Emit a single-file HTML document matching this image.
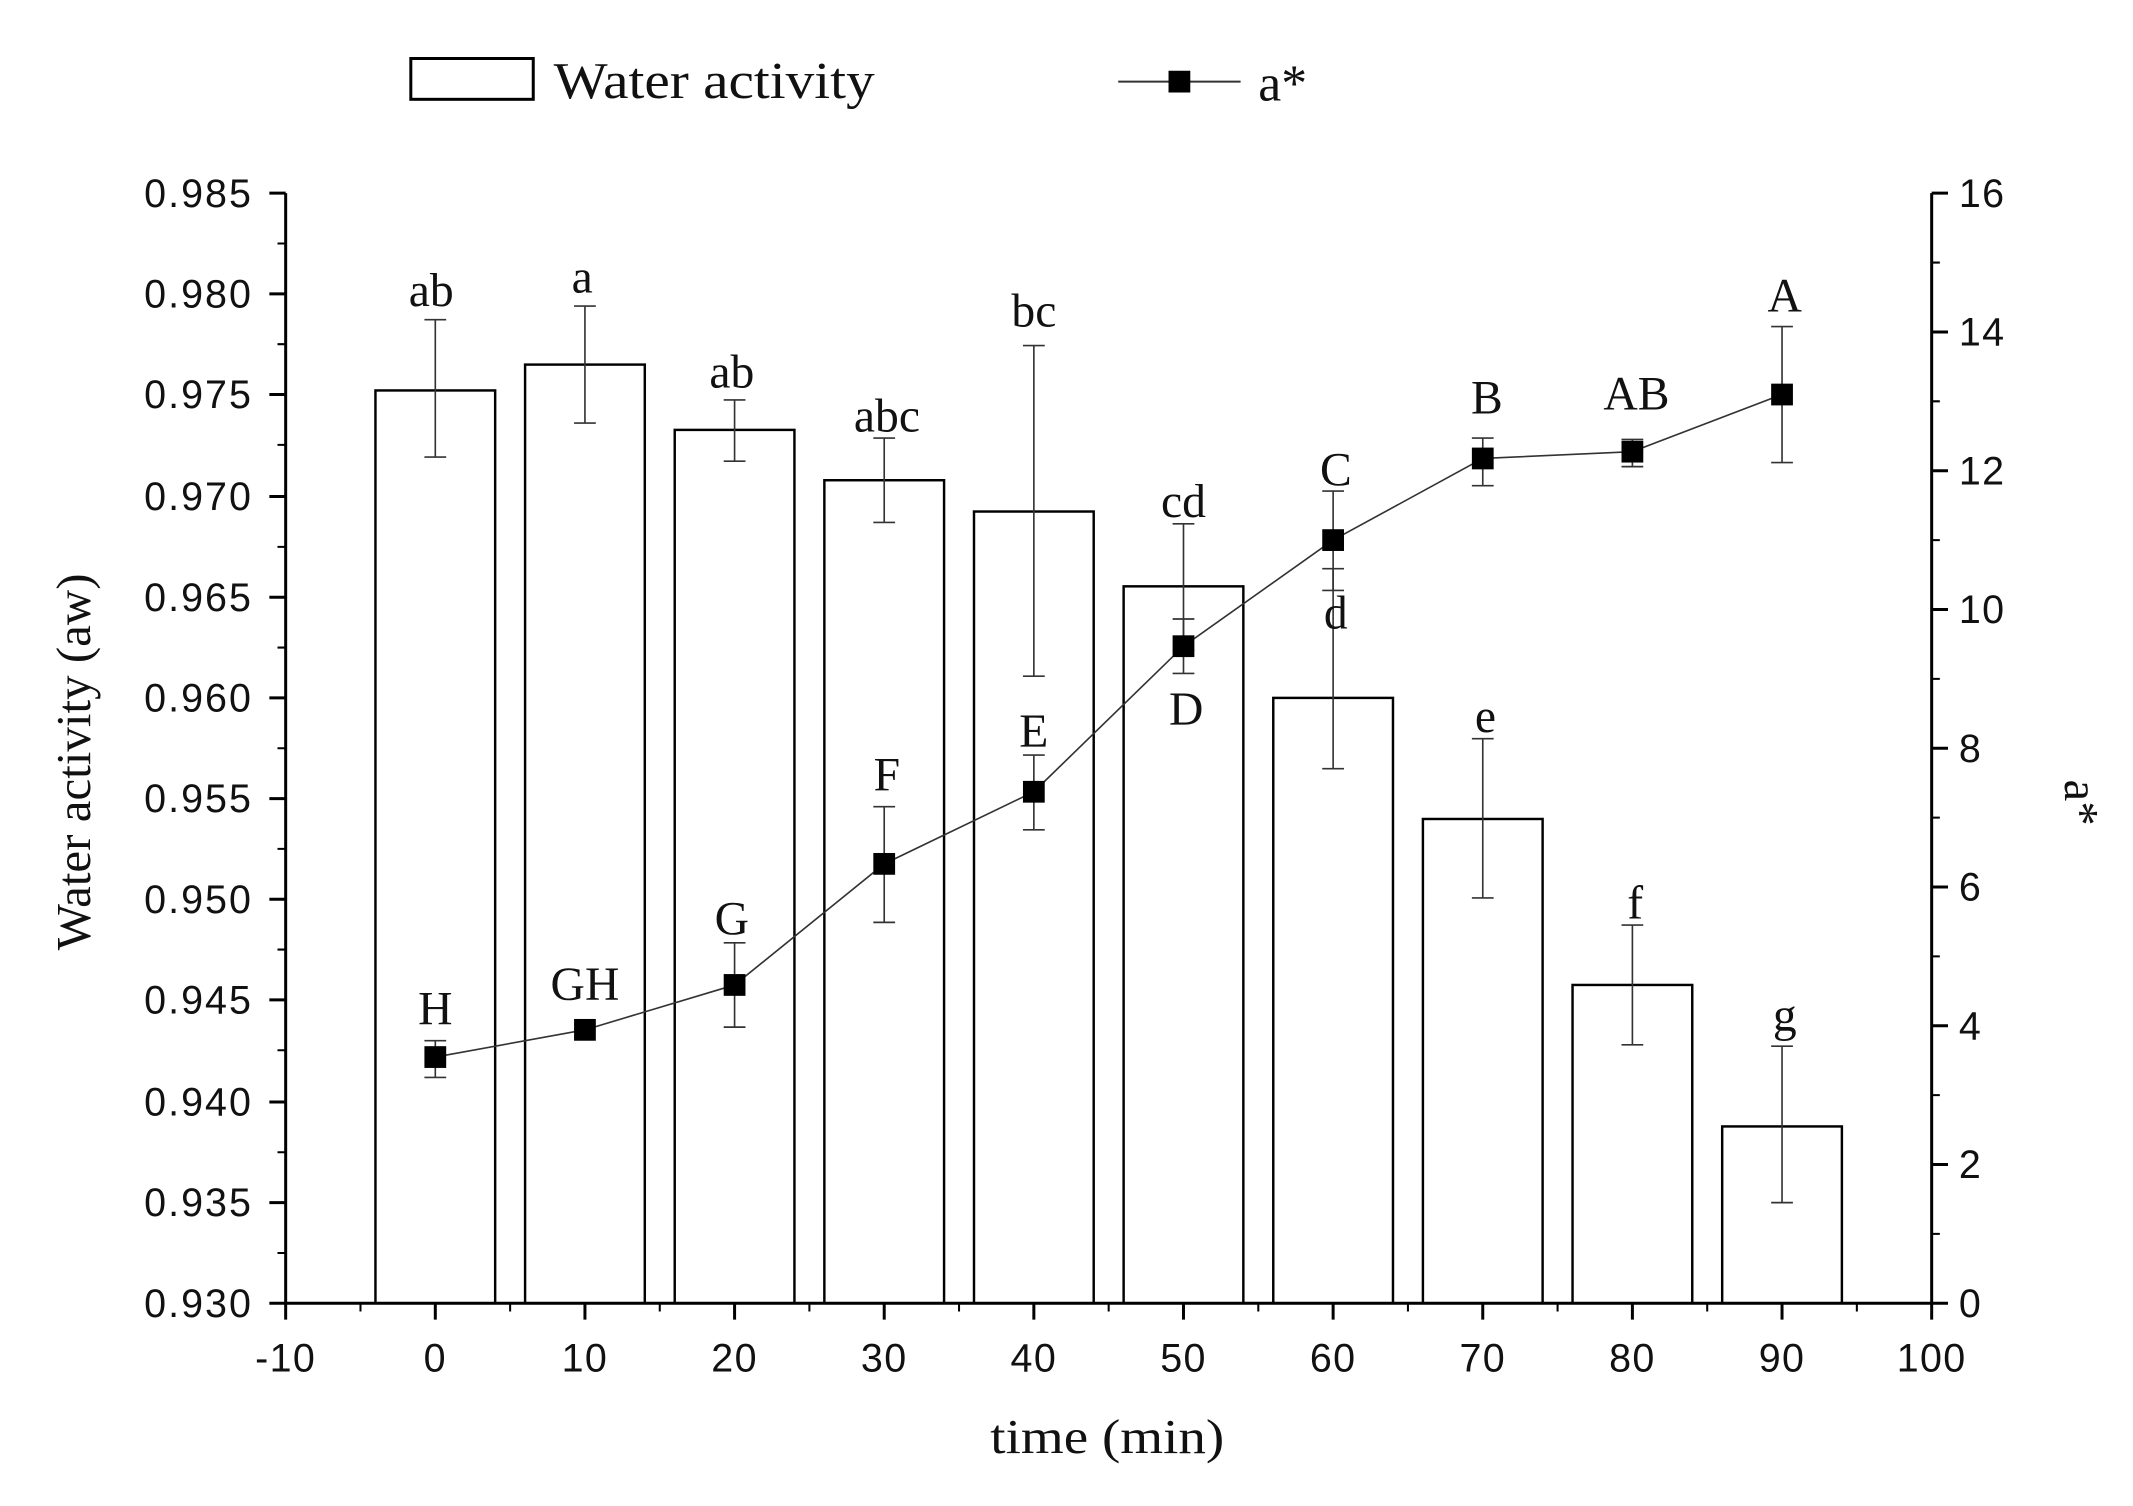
<!DOCTYPE html>
<html><head><meta charset="utf-8"><style>html,body{margin:0;padding:0;background:#fff;}svg{display:block}</style></head>
<body>
<svg width="2133" height="1506" viewBox="0 0 1568 1107" preserveAspectRatio="none" xmlns="http://www.w3.org/2000/svg">
<rect width="1568" height="1107" fill="#fff"/>
<g stroke="#000" stroke-width="1.8" fill="#fff">
<rect x="276" y="287" width="88" height="671"/>
<rect x="386" y="268" width="88" height="690"/>
<rect x="496" y="316" width="88" height="642"/>
<rect x="606" y="353" width="88" height="605"/>
<rect x="716" y="376" width="88" height="582"/>
<rect x="826" y="431" width="88" height="527"/>
<rect x="936" y="513" width="88" height="445"/>
<rect x="1046" y="602" width="88" height="356"/>
<rect x="1156" y="724" width="88" height="234"/>
<rect x="1266" y="828" width="88" height="130"/>
</g>
<g stroke="#333" stroke-width="1.2" fill="none">
<path d="M320 235V336M312 235H328M312 336H328"/>
<path d="M430 225V311M422 225H438M422 311H438"/>
<path d="M540 294V339M532 294H548M532 339H548"/>
<path d="M650 322V384M642 322H658M642 384H658"/>
<path d="M760 254V497M752 254H768M752 497H768"/>
<path d="M870 385V478M862 385H878M862 478H878"/>
<path d="M980 418V565M972 418H988M972 565H988"/>
<path d="M1090 543V660M1082 543H1098M1082 660H1098"/>
<path d="M1200 680V768M1192 680H1208M1192 768H1208"/>
<path d="M1310 769V884M1302 769H1318M1302 884H1318"/>
</g>
<g stroke="#333" stroke-width="1.2" fill="none">
<polyline points="320,777 430,757 540,724 650,635 760,582 870,475 980,397 1090,337 1200,332 1310,290"/>
<path d="M320 765V792M312 765H328M312 792H328"/>
<path d="M540 693V755M532 693H548M532 755H548"/>
<path d="M650 593V678M642 593H658M642 678H658"/>
<path d="M760 555V610M752 555H768M752 610H768"/>
<path d="M870 455V495M862 455H878M862 495H878"/>
<path d="M980 361V434M972 361H988M972 434H988"/>
<path d="M1090 322V357M1082 322H1098M1082 357H1098"/>
<path d="M1200 323V343M1192 323H1208M1192 343H1208"/>
<path d="M1310 240V340M1302 240H1318M1302 340H1318"/>
</g>
<g fill="#000">
<rect x="312" y="769" width="16" height="16"/><rect x="422" y="749" width="16" height="16"/><rect x="532" y="716" width="16" height="16"/><rect x="642" y="627" width="16" height="16"/><rect x="752" y="574" width="16" height="16"/><rect x="862" y="467" width="16" height="16"/><rect x="972" y="389" width="16" height="16"/><rect x="1082" y="329" width="16" height="16"/><rect x="1192" y="324" width="16" height="16"/><rect x="1302" y="282" width="16" height="16"/>
</g>
<g stroke="#000" stroke-width="2.2" fill="none">
<path d="M210 142V958H1420V142"/>
<path d="M198 142H210M198 216H210M198 290H210M198 365H210M198 439H210M198 513H210M198 587H210M198 661H210M198 735H210M198 810H210M198 884H210M198 958H210"/>
<path d="M204 179H210M204 253H210M204 327H210M204 402H210M204 476H210M204 550H210M204 624H210M204 698H210M204 772H210M204 847H210M204 921H210" stroke-width="1.5"/>
<path d="M1420 142H1432M1420 244H1432M1420 346H1432M1420 448H1432M1420 550H1432M1420 652H1432M1420 754H1432M1420 856H1432M1420 958H1432"/>
<path d="M1420 193H1426M1420 295H1426M1420 397H1426M1420 499H1426M1420 601H1426M1420 703H1426M1420 805H1426M1420 907H1426" stroke-width="1.5"/>
<path d="M210 958V970M320 958V970M430 958V970M540 958V970M650 958V970M760 958V970M870 958V970M980 958V970M1090 958V970M1200 958V970M1310 958V970M1420 958V970"/>
<path d="M265 958V964M375 958V964M485 958V964M595 958V964M705 958V964M815 958V964M925 958V964M1035 958V964M1145 958V964M1255 958V964M1365 958V964" stroke-width="1.5"/>
</g>
<g font-family="Liberation Sans, sans-serif" font-size="29" fill="#111" text-anchor="end" letter-spacing="1.5">
<text x="186" y="152">0.985</text><text x="186" y="226">0.980</text><text x="186" y="300">0.975</text><text x="186" y="375">0.970</text><text x="186" y="449">0.965</text><text x="186" y="523">0.960</text><text x="186" y="597">0.955</text><text x="186" y="671">0.950</text><text x="186" y="745">0.945</text><text x="186" y="820">0.940</text><text x="186" y="894">0.935</text><text x="186" y="968">0.930</text>
</g>
<g font-family="Liberation Sans, sans-serif" font-size="29" fill="#111" text-anchor="start" letter-spacing="1">
<text x="1440" y="152">16</text><text x="1440" y="254">14</text><text x="1440" y="356">12</text><text x="1440" y="458">10</text><text x="1440" y="560">8</text><text x="1440" y="662">6</text><text x="1440" y="764">4</text><text x="1440" y="866">2</text><text x="1440" y="968">0</text>
</g>
<g font-family="Liberation Sans, sans-serif" font-size="29" fill="#111" text-anchor="middle" letter-spacing="1">
<text x="210" y="1008">-10</text><text x="320" y="1008">0</text><text x="430" y="1008">10</text><text x="540" y="1008">20</text><text x="650" y="1008">30</text><text x="760" y="1008">40</text><text x="870" y="1008">50</text><text x="980" y="1008">60</text><text x="1090" y="1008">70</text><text x="1200" y="1008">80</text><text x="1310" y="1008">90</text><text x="1420" y="1008">100</text>
</g>
<g font-family="Liberation Serif, serif" font-size="35" fill="#111" text-anchor="middle">
<text x="317" y="225">ab</text><text x="428" y="215">a</text><text x="538" y="285">ab</text><text x="652" y="317">abc</text><text x="760" y="240">bc</text><text x="870" y="380">cd</text><text x="982" y="462">d</text><text x="1092" y="538">e</text><text x="1202" y="675">f</text><text x="1312" y="758">g</text>
<text x="320" y="753">H</text><text x="430" y="735">GH</text><text x="538" y="687">G</text><text x="652" y="581">F</text><text x="760" y="549">E</text><text x="872" y="533">D</text><text x="982" y="357">C</text><text x="1093" y="304">B</text><text x="1203" y="301">AB</text><text x="1312" y="229">A</text>
</g>
<text x="728" y="1068" font-family="Liberation Serif, serif" font-size="36" fill="#111" textLength="172" lengthAdjust="spacingAndGlyphs">time (min)</text>
<text transform="translate(66,560) rotate(-90)" font-family="Liberation Serif, serif" font-size="36" text-anchor="middle" fill="#111">Water activity (aw)</text>
<text transform="translate(1518,590) rotate(90)" font-family="Liberation Serif, serif" font-size="36" text-anchor="middle" fill="#111">a*</text>
<rect x="302" y="43" width="90" height="30" fill="#fff" stroke="#000" stroke-width="2.2"/>
<text x="407" y="72" font-family="Liberation Serif, serif" font-size="38" fill="#111" textLength="236" lengthAdjust="spacingAndGlyphs">Water activity</text>
<path d="M822 60H912" stroke="#333" stroke-width="1.5"/>
<rect x="859" y="52" width="16" height="16" fill="#000"/>
<text x="925" y="74" font-family="Liberation Serif, serif" font-size="38" fill="#111">a*</text>
</svg>
</body></html>
